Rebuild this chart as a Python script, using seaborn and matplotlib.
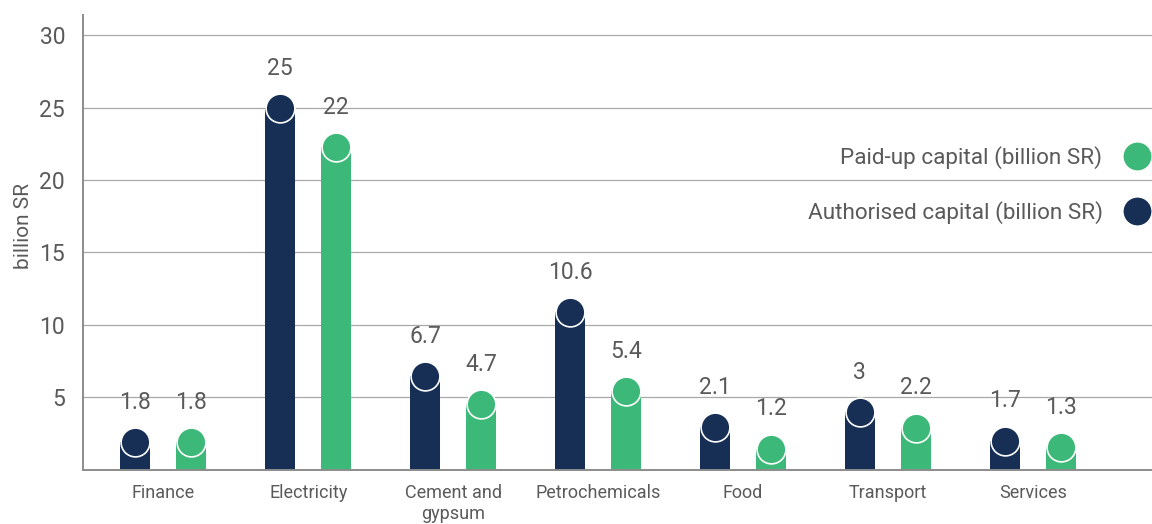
import pandas as pd
import numpy as np
import matplotlib
matplotlib.use("Agg")
import matplotlib.pyplot as plt
import seaborn as sns
from matplotlib.lines import Line2D

# data
sectors = ["Finance", "Electricity", "Cement and\ngypsum", "Petrochemicals",
           "Food", "Transport", "Services"]
authorised_labels = ["1.8", "25", "6.7", "10.6", "2.1", "3", "1.7"]
paid_up_labels = ["1.8", "22", "4.7", "5.4", "1.2", "2.2", "1.3"]
# bar heights as drawn in the picture
authorised_drawn = [1.9, 24.95, 6.45, 10.9, 2.95, 4.0, 2.0]
paid_up_drawn = [1.9, 22.3, 4.5, 5.45, 1.45, 2.9, 1.55]
y_ticks = [5, 10, 15, 20, 25, 30]

auth_name = "Authorised capital (billion SR)"
paid_name = "Paid-up capital (billion SR)"
navy = "#172F55"
green = "#3CB878"
text_grey = "#5a5a5a"
grid_grey = "#a8a8a8"
spine_grey = "#8c8c8c"

sns.set_style("white")
plt.rcParams["font.family"] = ["Roboto", "DejaVu Sans"]

df = pd.DataFrame({
    "sector": sectors * 2,
    "value": authorised_drawn + paid_up_drawn,
    "label": authorised_labels + paid_up_labels,
    "series": [auth_name] * len(sectors) + [paid_name] * len(sectors),
})

fig = plt.figure(figsize=(11.52, 5.24), dpi=100)
ax = fig.add_axes([83 / 1152, 54.5 / 524, (1152 - 83) / 1152, 454.5 / 524])

sns.barplot(data=df, x="sector", y="value", hue="series",
            hue_order=[auth_name, paid_name],
            palette={auth_name: navy, paid_name: green},
            width=0.775, gap=0.466, saturation=1, linewidth=0,
            legend=False, ax=ax, zorder=2)

# round caps + value labels on top of each bar
labels = authorised_labels + paid_up_labels
for patch, lab in zip(ax.patches, labels):
    cx = patch.get_x() + patch.get_width() / 2
    top = patch.get_height()
    ax.scatter([cx], [top], s=430, color=patch.get_facecolor(),
               edgecolor="white", linewidth=1.2, zorder=3)
    ax.annotate(lab, (cx, top), xytext=(0, 28.5), textcoords="offset points",
                ha="center", va="center", fontsize=16.5, color=text_grey)

ax.set_xlim(-0.554, 6.823)
ax.set_ylim(0, 31.4)
ax.set_yticks(y_ticks)
ax.yaxis.grid(True, color=grid_grey, linewidth=0.9, zorder=0)
ax.set_axisbelow(True)

for s in ["top", "right"]:
    ax.spines[s].set_visible(False)
for s in ["left", "bottom"]:
    ax.spines[s].set_color(spine_grey)
    ax.spines[s].set_linewidth(1.4)

ax.tick_params(axis="y", length=4.3, width=0.9, color=grid_grey, pad=8.6,
               labelsize=16.5, labelcolor=text_grey)
ax.tick_params(axis="x", length=5, width=1.2, color=spine_grey, pad=5.5,
               labelsize=13, labelcolor=text_grey)
ax.set_xlabel("")
ax.set_ylabel("billion SR", fontsize=15, color=text_grey)
ax.yaxis.set_label_coords(-0.047, 0.536)

handles = [
    Line2D([], [], linestyle="none", marker="o", markersize=21,
           markerfacecolor=green, markeredgecolor="white", label=paid_name),
    Line2D([], [], linestyle="none", marker="o", markersize=21,
           markerfacecolor=navy, markeredgecolor="white", label=auth_name),
]
leg = ax.legend(handles=handles, loc="upper right", bbox_to_anchor=(1.0, 0.711),
                frameon=False, markerfirst=False, fontsize=16.2,
                handlelength=1.3, handletextpad=0.9, labelspacing=1.4,
                borderaxespad=0, borderpad=0)
for t in leg.get_texts():
    t.set_color(text_grey)

fig.savefig("out.png", dpi=100)
